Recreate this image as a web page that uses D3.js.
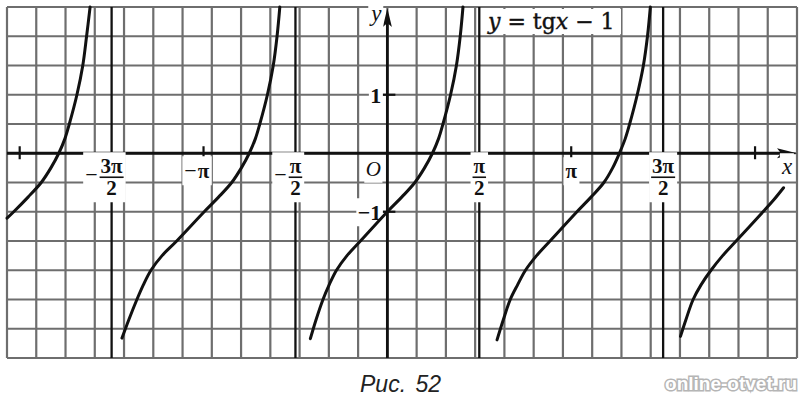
<!DOCTYPE html>
<html><head><meta charset="utf-8">
<script src="https://cdn.jsdelivr.net/npm/d3@7"></script>
<style>html,body{margin:0;padding:0;background:#fff}svg{display:block}</style>
</head><body>
<svg id="chart" width="804" height="400"></svg>
<script>
// ---- data ----
const xDomain = [-6.5, 7];
const yDomain = [-3.5, 2.5];
const gridStep = 0.5;
const asymptoteValues = [-3 * Math.PI / 2, -Math.PI / 2, Math.PI / 2, 3 * Math.PI / 2];
const axisTickValues = [-2 * Math.PI, -Math.PI, Math.PI, 2 * Math.PI];
const yTickValues = [1, -1];
const yTickLabels = ["1", "−1"];
const xLabelValues = [-3 * Math.PI / 2, -Math.PI, -Math.PI / 2, Math.PI / 2, Math.PI, 3 * Math.PI / 2];
const xLabelSigns = ["−", "−", "−", "", "", ""];
const xLabelNumerators = ["3π", "π", "π", "π", "π", "3π"];
const xLabelDenominators = ["2", "", "2", "2", "", "2"];
const captionText = "Рис. 52";
const watermarkText = "online-otvet.ru";

// branches of y = tg x − 1, points [x, y]
const branch1 = [[-6.5, -1.11], [-6.385, -1.0], [-6.14, -0.75], [-5.915, -0.5], [-5.75, -0.25], [-5.615, 0], [-5.51, 0.25], [-5.435, 0.5], [-5.305, 1.0], [-5.205, 1.5], [-5.14, 2.0], [-5.08, 2.5]];
const branch2 = [[-4.535, -3.16], [-4.42, -2.85], [-4.28, -2.5], [-4.17, -2.25], [-4.04, -2.0], [-3.85, -1.75], [-3.60, -1.5], [-3.13, -1.0], [-2.885, -0.75], [-2.66, -0.5], [-2.495, -0.25], [-2.36, 0], [-2.255, 0.25], [-2.18, 0.5], [-2.05, 1.0], [-1.95, 1.5], [-1.885, 2.0], [-1.838, 2.5]];
const branch3 = [[-1.316, -3.17], [-1.22, -2.85], [-1.10, -2.5], [-0.995, -2.25], [-0.87, -2.0], [-0.69, -1.75], [-0.46, -1.5], [0, -1.0], [0.245, -0.75], [0.47, -0.5], [0.635, -0.25], [0.77, 0], [0.875, 0.25], [0.95, 0.5], [1.08, 1.0], [1.18, 1.5], [1.245, 2.0], [1.292, 2.5]];
const branch4 = [[1.874, -3.19], [1.98, -2.85], [2.10, -2.5], [2.225, -2.25], [2.36, -2.0], [2.55, -1.75], [2.78, -1.5], [3.24, -1.0], [3.48, -0.75], [3.70, -0.5], [3.85, -0.25], [3.965, 0], [4.065, 0.25], [4.14, 0.5], [4.27, 1.0], [4.375, 1.5], [4.445, 2.0], [4.494, 2.5]];
const branch5 = [[5.009, -3.13], [5.10, -2.85], [5.225, -2.5], [5.36, -2.25], [5.53, -2.0], [5.73, -1.75], [5.96, -1.5], [6.42, -1.0], [6.60, -0.8], [6.77, -0.59]];
const branches = [branch1, branch2, branch3, branch4, branch5];

// ---- drawing ----
const svg = d3.select("#chart");
const x = d3.scaleLinear().domain(xDomain).range([7, 797]);
const y = d3.scaleLinear().domain(yDomain).range([358, 7]);
const X0 = x(0), Y0 = y(0);

const gridXs = d3.range(xDomain[0], xDomain[1] + 1e-6, gridStep);
const gridYs = d3.range(yDomain[0], yDomain[1] + 1e-6, gridStep);

const gGrid = svg.append("g").attr("stroke", "#6e6e6e").attr("stroke-width", 2.2);
gGrid.selectAll("line.v").data(gridXs).join("line").attr("class", "v")
  .attr("x1", d => x(d)).attr("x2", d => x(d)).attr("y1", y(yDomain[1])).attr("y2", y(yDomain[0]));
gGrid.selectAll("line.h").data(gridYs).join("line").attr("class", "h")
  .attr("y1", d => y(d)).attr("y2", d => y(d)).attr("x1", x(xDomain[0])).attr("x2", x(xDomain[1]));

// asymptotes
svg.append("g").attr("stroke", "#111").attr("stroke-width", 2.3)
  .selectAll("line").data(asymptoteValues).join("line")
  .attr("x1", d => x(d)).attr("x2", d => x(d)).attr("y1", y(yDomain[1])).attr("y2", y(yDomain[0]));

// axes
const gAx = svg.append("g");
const xe = x(xDomain[1]), yt = y(yDomain[1]);
gAx.append("line").attr("x1", x(xDomain[0])).attr("x2", xe - 10).attr("y1", Y0).attr("y2", Y0)
  .attr("stroke", "#111").attr("stroke-width", 2.8);
gAx.append("path").attr("d", `M${xe},${Y0} L${xe - 20},${Y0 - 5} L${xe - 16},${Y0} L${xe - 20},${Y0 + 5} Z`).attr("fill", "#111");
gAx.append("line").attr("x1", X0).attr("x2", X0).attr("y1", y(yDomain[0])).attr("y2", yt + 10)
  .attr("stroke", "#111").attr("stroke-width", 2.8);
gAx.append("path").attr("d", `M${X0},${yt + 1} L${X0 - 4.5},${yt + 20} L${X0},${yt + 16} L${X0 + 4.5},${yt + 20} Z`).attr("fill", "#111");
gAx.selectAll("line.xt").data(axisTickValues).join("line").attr("class", "xt")
  .attr("x1", d => x(d)).attr("x2", d => x(d)).attr("y1", Y0 - 7).attr("y2", Y0 + 6)
  .attr("stroke", "#111").attr("stroke-width", 2.2);
gAx.selectAll("line.yt").data(yTickValues).join("line").attr("class", "yt")
  .attr("y1", d => y(d)).attr("y2", d => y(d)).attr("x1", X0 - 5).attr("x2", X0 + 8)
  .attr("stroke", "#111").attr("stroke-width", 2.2);

// labels with white backgrounds
const serif = "'Liberation Serif', 'Times New Roman', serif";
const wideSerif = "'DejaVu Serif', 'Liberation Serif', serif";
const gLab = svg.append("g").attr("font-family", serif).attr("fill", "#111");
function addBg(g, pad) {
  const b = g.node().getBBox();
  g.insert("rect", ":first-child").attr("x", b.x - pad).attr("y", b.y - pad)
    .attr("width", b.width + 2 * pad).attr("height", b.height + 2 * pad).attr("fill", "#fff");
}
xLabelValues.forEach((v, i) => {
  const g = gLab.append("g").attr("font-weight", "bold");
  const cx = x(v);
  const fs = 21;
  if (xLabelDenominators[i]) {
    const num = g.append("text").attr("x", cx).attr("y", Y0 + 20).attr("text-anchor", "middle")
      .attr("font-size", fs).text(xLabelNumerators[i]);
    const w = num.node().getComputedTextLength() + 2;
    g.append("line").attr("x1", cx - w / 2).attr("x2", cx + w / 2).attr("y1", Y0 + 24).attr("y2", Y0 + 24)
      .attr("stroke", "#111").attr("stroke-width", 1.6);
    g.append("text").attr("x", cx).attr("y", Y0 + 42).attr("text-anchor", "middle")
      .attr("font-size", fs).text(xLabelDenominators[i]);
    if (xLabelSigns[i]) {
      g.append("text").attr("x", cx - w / 2 - 2).attr("y", Y0 + 29).attr("text-anchor", "end")
        .attr("font-size", fs + 1).attr("font-weight", "normal").text(xLabelSigns[i]);
    }
  } else {
    const t = g.append("text").attr("x", cx).attr("y", Y0 + 25).attr("text-anchor", "middle")
      .attr("font-size", fs).text(xLabelNumerators[i]);
    if (xLabelSigns[i]) {
      const w = t.node().getComputedTextLength();
      g.append("text").attr("x", cx - w / 2 - 1).attr("y", Y0 + 25).attr("text-anchor", "end")
        .attr("font-size", fs + 1).attr("font-weight", "normal").text(xLabelSigns[i]);
    }
  }
  addBg(g, 2);
});
yTickValues.forEach((v, i) => {
  const g = gLab.append("g").attr("font-weight", "bold");
  g.append("text").attr("x", X0 - 6).attr("y", y(v) + 8).attr("text-anchor", "end")
    .attr("font-size", 22).text(yTickLabels[i]);
  addBg(g, 1.5);
});
{
  const g = gLab.append("g");
  g.append("text").attr("x", X0 - 14).attr("y", Y0 + 23).attr("text-anchor", "middle")
    .attr("font-size", 21).attr("font-style", "italic").text("O");
  addBg(g, 1.5);
}
{
  const g = gLab.append("g");
  g.append("text").attr("x", X0 - 11).attr("y", 21).attr("text-anchor", "middle")
    .attr("font-size", 23).attr("font-style", "italic").text("y");
  addBg(g, 1);
}
{
  const g = gLab.append("g");
  g.append("text").attr("x", xe - 10).attr("y", Y0 + 21).attr("text-anchor", "middle")
    .attr("font-size", 23).attr("font-style", "italic").text("x");
  addBg(g, 1);
}

// curves
const line = d3.line().x(d => x(d[0])).y(d => y(d[1])).curve(d3.curveCatmullRom.alpha(0.5));
svg.append("g").selectAll("path").data(branches).join("path")
  .attr("d", line).attr("fill", "none").attr("stroke", "#111").attr("stroke-width", 3)
  .attr("stroke-linecap", "round");

// title box
{
  const g = svg.append("g");
  g.append("rect").attr("x", 481).attr("y", 9).attr("width", 140).attr("height", 25).attr("fill", "#fff");
  const t = g.append("text").attr("x", 488).attr("y", 29).attr("font-family", wideSerif).attr("font-size", 22)
    .attr("fill", "#111").attr("stroke", "#111").attr("stroke-width", 0.4);
  t.append("tspan").attr("font-style", "italic").text("y");
  t.append("tspan").text(" = tg");
  t.append("tspan").attr("font-style", "italic").text("x");
  t.append("tspan").text(" − 1");
}

// caption & watermark
svg.append("text").attr("x", 360).attr("y", 392).attr("font-family", "'Liberation Sans', Arial, sans-serif")
  .attr("font-style", "italic").attr("font-size", 23).attr("word-spacing", 3).attr("fill", "#222").text(captionText);
svg.append("text").attr("x", 797).attr("y", 390).attr("text-anchor", "end")
  .attr("font-family", "'Liberation Sans', Arial, sans-serif").attr("font-weight", "bold").attr("font-size", 19)
  .attr("fill", "#fff").attr("stroke", "#b5b5b5").attr("stroke-width", 3).attr("paint-order", "stroke")
  .text(watermarkText);
</script>
</body></html>
